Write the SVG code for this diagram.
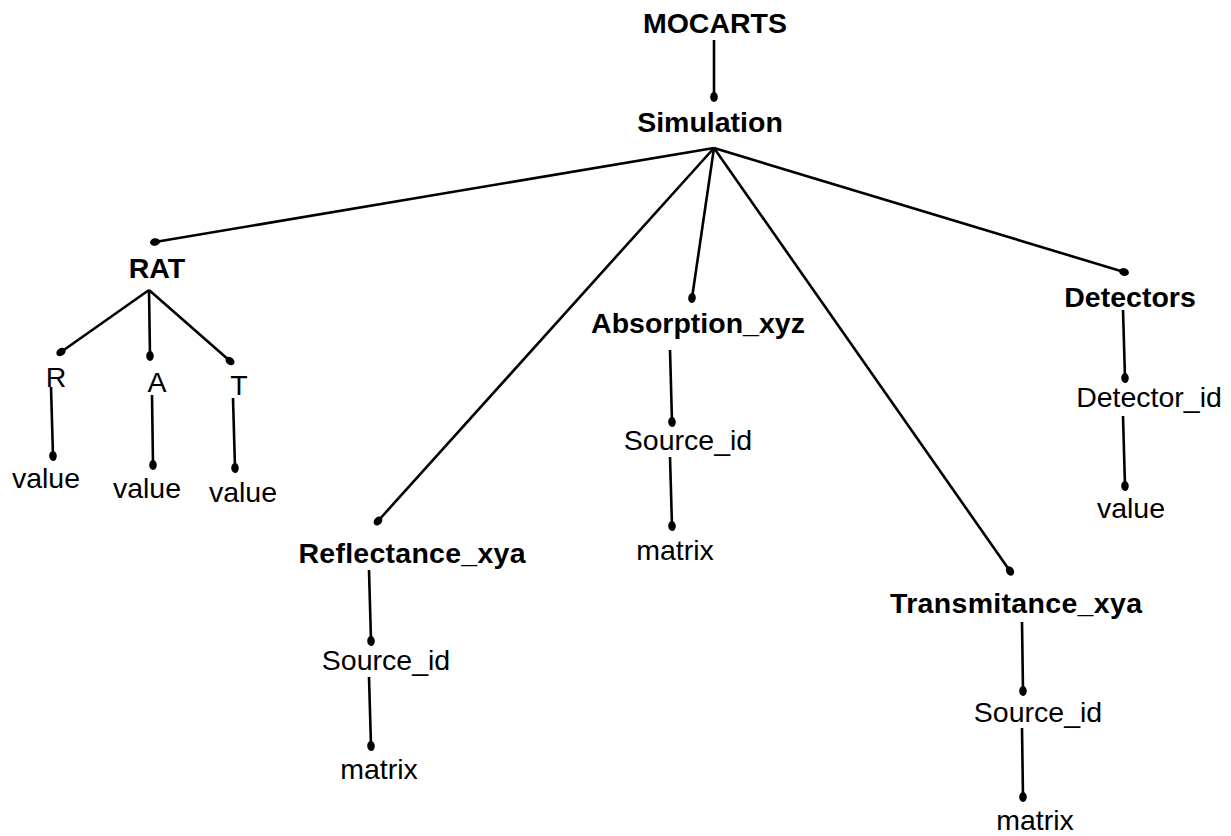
<svg xmlns="http://www.w3.org/2000/svg" width="1231" height="836" viewBox="0 0 1231 836">
  <style>
    text { font-family: "Liberation Sans", Arial, sans-serif; font-size: 28.5px; fill: #000; text-anchor: middle; }
    .b { font-weight: bold; }
    .edges line { stroke: #000; stroke-width: 2.6; marker-end: url(#dot); }
  </style>
  <defs>
    <marker id="dot" markerUnits="userSpaceOnUse" markerWidth="12" markerHeight="10" refX="5" refY="5" orient="auto">
      <ellipse cx="5" cy="5" rx="5" ry="3.8" fill="#000"/>
    </marker>
  </defs>
  <rect width="1231" height="836" fill="#fff"/>

  <!-- tree edges, each ending in a dot at the child -->
  <g class="edges">
    <line x1="714" y1="40" x2="714" y2="97"/>
    <line x1="714" y1="148" x2="155" y2="242"/>
    <line x1="714" y1="148" x2="378" y2="521"/>
    <line x1="714" y1="148" x2="692" y2="298"/>
    <line x1="714" y1="148" x2="1010" y2="571"/>
    <line x1="714" y1="148" x2="1124" y2="272"/>
    <line x1="149" y1="290" x2="61" y2="352"/>
    <line x1="149" y1="290" x2="150" y2="356"/>
    <line x1="149" y1="290" x2="230" y2="361"/>
    <line x1="51" y1="387" x2="53" y2="456"/>
    <line x1="152" y1="395" x2="153" y2="465"/>
    <line x1="233" y1="398" x2="235" y2="468"/>
    <line x1="369" y1="570" x2="371" y2="641"/>
    <line x1="369" y1="677" x2="371" y2="746"/>
    <line x1="670" y1="350" x2="672" y2="422"/>
    <line x1="670" y1="457" x2="672" y2="526"/>
    <line x1="1123" y1="310" x2="1125" y2="378"/>
    <line x1="1123" y1="416" x2="1125" y2="486"/>
    <line x1="1022" y1="622" x2="1023" y2="691"/>
    <line x1="1022" y1="728" x2="1023" y2="797"/>
  </g>

  <g id="mocarts"><text class="b" x="715" y="33">MOCARTS</text></g>
  <g id="simulation"><text class="b" x="710" y="132">Simulation</text></g>

  <g id="rat"><text class="b" x="157" y="278">RAT</text></g>
  <g id="rat-r"><text x="56" y="387">R</text></g>
  <g id="rat-a"><text x="157" y="392">A</text></g>
  <g id="rat-t"><text x="239" y="395">T</text></g>
  <g id="rat-r-value"><text x="46" y="488">value</text></g>
  <g id="rat-a-value"><text x="147" y="498">value</text></g>
  <g id="rat-t-value"><text x="243" y="502">value</text></g>

  <g id="reflectance"><text class="b" x="412" y="563" textLength="227" lengthAdjust="spacing">Reflectance_xya</text></g>
  <g id="reflectance-source"><text x="386" y="670">Source_id</text></g>
  <g id="reflectance-matrix"><text x="379" y="779">matrix</text></g>

  <g id="absorption"><text class="b" x="698" y="333">Absorption_xyz</text></g>
  <g id="absorption-source"><text x="688" y="450">Source_id</text></g>
  <g id="absorption-matrix"><text x="675" y="560">matrix</text></g>

  <g id="transmitance"><text class="b" x="1016" y="613" textLength="252" lengthAdjust="spacing">Transmitance_xya</text></g>
  <g id="transmitance-source"><text x="1038" y="722">Source_id</text></g>
  <g id="transmitance-matrix"><text x="1035" y="830">matrix</text></g>

  <g id="detectors"><text class="b" x="1130" y="307">Detectors</text></g>
  <g id="detector-id"><text x="1149" y="407">Detector_id</text></g>
  <g id="detector-value"><text x="1131" y="518">value</text></g>
</svg>
